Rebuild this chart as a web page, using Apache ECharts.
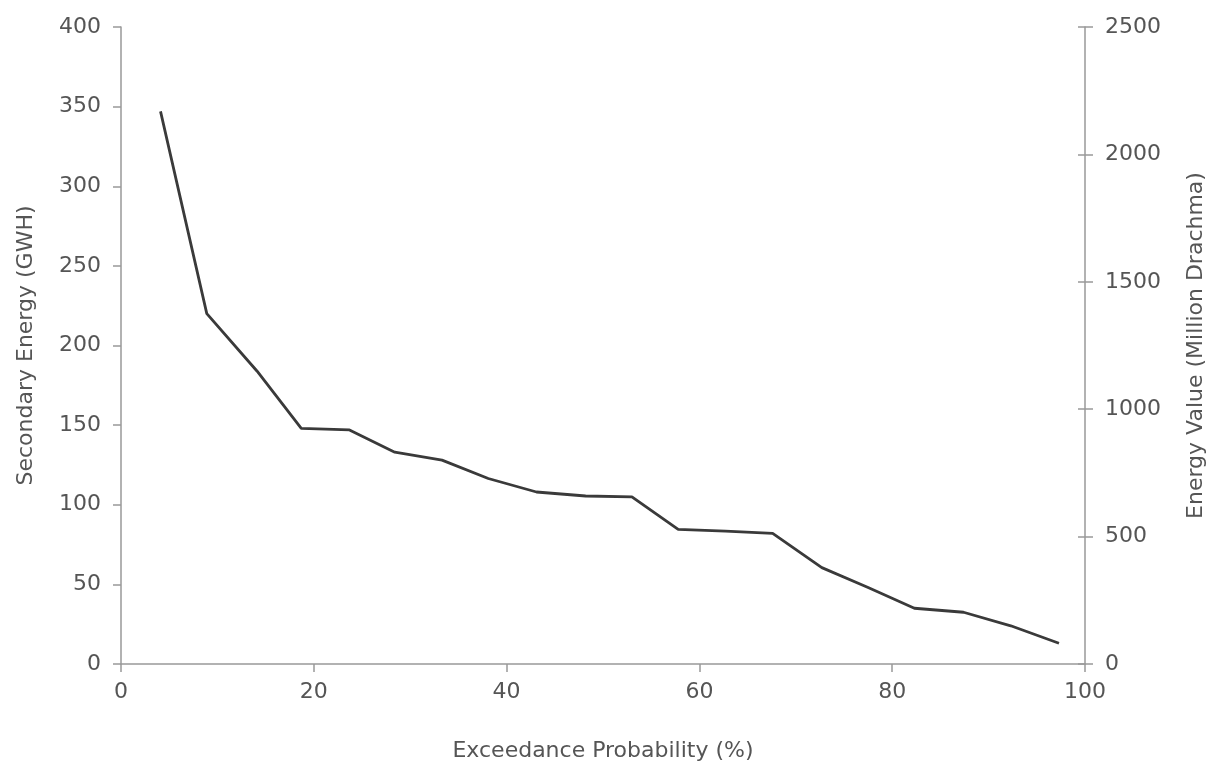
<!DOCTYPE html>
<html>
<head>
<meta charset="utf-8">
<script src="https://cdn.jsdelivr.net/npm/echarts@6/dist/echarts.min.js"></script>
<style>html,body{margin:0;padding:0;background:#fff}#c{width:1219px;height:771px}</style>
</head>
<body>
<div id="c"></div>
<script>
const exceedance = [4.1, 8.9, 14.1, 18.7, 23.7, 28.4, 33.3, 38.1, 43.1, 48.2, 53.0, 57.8, 62.7, 67.6, 72.7, 77.5, 82.3, 87.4, 92.3, 97.3];
const secondaryEnergy = [347, 220, 184, 148, 147, 133, 128, 116.5, 108, 105.5, 105, 84.5, 83.5, 82, 60.5, 48, 35, 32.5, 24, 13];
const xTitle = 'Exceedance Probability (%)';
const leftTitle = 'Secondary Energy (GWH)';
const rightTitle = 'Energy Value (Million Drachma)';

const font = 'DejaVu Sans';
const txt = '#555';
const axisCol = '#999';
const fs = 22;

const chart = echarts.init(document.getElementById('c'));
chart.setOption({
  animation: false,
  backgroundColor: '#fff',
  grid: {left: 121, right: 134, top: 27, bottom: 107},
  xAxis: {
    type: 'value', min: 0, max: 100, interval: 20,
    name: xTitle, nameLocation: 'middle', nameGap: 76,
    nameTextStyle: {fontFamily: font, fontSize: fs, color: txt},
    axisLine: {show: true, onZero: false, lineStyle: {color: axisCol, width: 1.5}},
    axisTick: {show: true, length: 8, lineStyle: {color: axisCol, width: 1.5}},
    axisLabel: {fontFamily: font, fontSize: fs, color: txt, margin: 17, formatter: v => String(v)},
    splitLine: {show: false}
  },
  yAxis: [
    {
      type: 'value', position: 'left', min: 0, max: 400, interval: 50,
      name: leftTitle, nameLocation: 'middle', nameGap: 84, nameRotate: 90,
      nameTextStyle: {fontFamily: font, fontSize: fs, color: txt},
      axisLine: {show: true, lineStyle: {color: axisCol, width: 1.5}},
      axisTick: {show: true, length: 8, lineStyle: {color: axisCol, width: 1.5}},
      axisLabel: {fontFamily: font, fontSize: fs, color: txt, margin: 20, formatter: v => String(v)},
      splitLine: {show: false}
    },
    {
      type: 'value', position: 'right', min: 0, max: 2500, interval: 500,
      name: rightTitle, nameLocation: 'middle', nameGap: 100, nameRotate: 90,
      nameTextStyle: {fontFamily: font, fontSize: fs, color: txt},
      axisLine: {show: true, lineStyle: {color: axisCol, width: 1.5}},
      axisTick: {show: true, length: 8, lineStyle: {color: axisCol, width: 1.5}},
      axisLabel: {fontFamily: font, fontSize: fs, color: txt, margin: 20, formatter: v => String(v)},
      splitLine: {show: false}
    },
    {
      type: 'value', position: 'right', min: 0, max: 2500, interval: 500,
      axisLine: {show: false},
      axisTick: {show: true, inside: true, length: 7, lineStyle: {color: axisCol, width: 1.5}},
      axisLabel: {show: false},
      splitLine: {show: false}
    }
  ],
  series: [{
    type: 'line',
    yAxisIndex: 0,
    data: exceedance.map((x, i) => [x, secondaryEnergy[i]]),
    symbol: 'none',
    lineStyle: {color: '#3a3a3a', width: 2.8},
    z: 3
  }]
});
</script>
</body>
</html>
